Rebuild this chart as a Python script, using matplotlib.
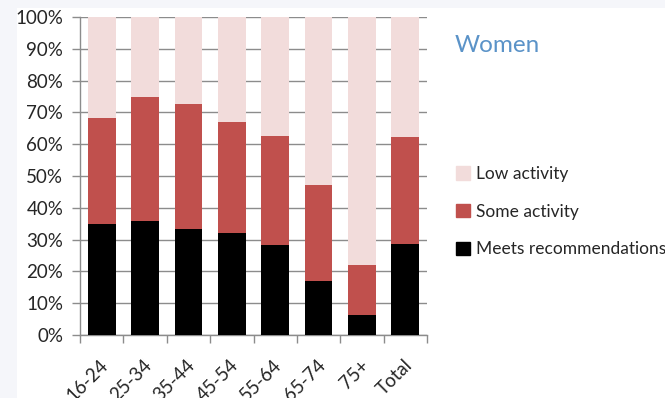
import matplotlib
matplotlib.use("Agg")
import matplotlib.pyplot as plt
import matplotlib.transforms as mtransforms
import numpy as np
from matplotlib.patches import Patch, Rectangle

categories = ["16-24", "25-34", "35-44", "45-54", "55-64", "65-74", "75+", "Total"]
meets = [35.0, 36.0, 33.4, 32.0, 28.4, 17.1, 6.2, 28.7]
cumulative_some = [68.2, 74.8, 72.5, 67.0, 62.7, 47.1, 21.9, 62.4]
some = [c - m for c, m in zip(cumulative_some, meets)]
low = [100 - c for c in cumulative_some]

plt.rcParams['font.family'] = ['Lato', 'DejaVu Sans']

fig = plt.figure(figsize=(6.65, 3.98), dpi=100)
fig.patch.set_facecolor('white')
# light background strips at top and left
fig.add_artist(Rectangle((0, 1-8/398), 1, 8/398, transform=fig.transFigure,
                         facecolor='#f5f6fa', edgecolor='none', zorder=0))
fig.add_artist(Rectangle((0, 0), 17/665, 1, transform=fig.transFigure,
                         facecolor='#f5f6fa', edgecolor='none', zorder=0))

ax = fig.add_axes([80/665, 1-335/398, 347/665, 318/398])
ax.set_facecolor('none')

x = np.arange(len(categories))
w = 0.64
c_low = '#f2dcdb'
c_some = '#c0504d'
c_meet = '#000000'
ax.bar(x, meets, w, color=c_meet, zorder=3)
ax.bar(x, some, w, bottom=meets, color=c_some, zorder=3)
ax.bar(x, low, w, bottom=cumulative_some, color=c_low, zorder=3)

ax.set_xlim(-0.5, len(categories) - 0.5)
ax.set_ylim(0, 100)
ax.set_yticks(np.arange(0, 101, 10))
ax.set_yticklabels([f"{v}%" for v in range(0, 101, 10)], fontsize=13.5, color='#262626')
ax.yaxis.grid(True, color='#8c8c8c', linewidth=1, zorder=0)
ax.tick_params(axis='y', length=6, color='#8c8c8c', width=1, pad=6)

ax.set_xticks(x)
ax.set_xticklabels(categories, rotation=45, ha='right', va='center', rotation_mode='anchor',
                   fontsize=13.5, color='#262626')
ax.tick_params(axis='x', which='major', length=0, pad=20)
offset = mtransforms.ScaledTranslation(4/100, 0, fig.dpi_scale_trans)
for lbl in ax.get_xticklabels():
    lbl.set_transform(lbl.get_transform() + offset)
ax.set_xticks(np.arange(-0.5, len(categories), 1), minor=True)
ax.tick_params(axis='x', which='minor', length=6, color='#8c8c8c', width=1)

for s in ['top', 'right']:
    ax.spines[s].set_visible(False)
for s in ['left', 'bottom']:
    ax.spines[s].set_color('#8c8c8c')
    ax.spines[s].set_linewidth(1)

fig.text(455/665, 1-45/398, "Women", fontsize=17.5, color='#5b93c8', va='center', ha='left')

handles = [Patch(color=c_low), Patch(color=c_some), Patch(color=c_meet)]
labels = ["Low activity", "Some activity", "Meets recommendations"]
leg = fig.legend(handles, labels, loc='upper left', bbox_to_anchor=(456/665, 1-166/398),
                 frameon=False, fontsize=12.5, handlelength=0.8, handleheight=0.8,
                 handletextpad=0.35, labelspacing=1.25, borderaxespad=0, borderpad=0)
for t in leg.get_texts():
    t.set_color('#262626')

fig.savefig("out.png", dpi=100)
